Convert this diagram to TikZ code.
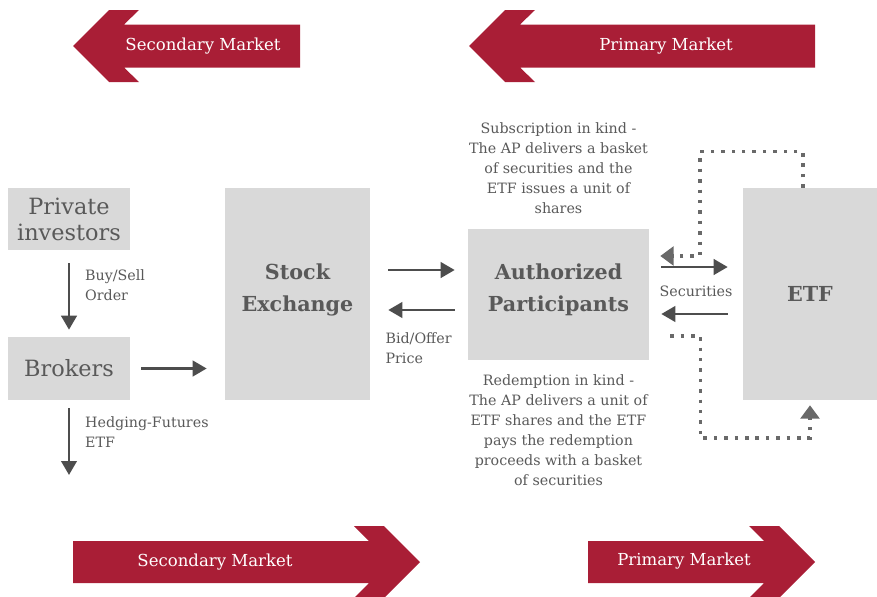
\documentclass[tikz,border=0pt]{standalone}
\usepackage{fontspec}
\setmainfont{DejaVu Serif}
\usetikzlibrary{arrows.meta}
\usetikzlibrary{positioning}
\usetikzlibrary{calc}
\definecolor{boxgray}{RGB}{217,217,217}
\definecolor{textgray}{RGB}{89,89,89}
\definecolor{linegray}{RGB}{77,77,77}
\definecolor{dotgray}{RGB}{105,105,105}
\definecolor{marketred}{RGB}{169,30,54}
\tikzset {
  % grey boxes
  block/.style = {
    fill = boxgray,
    text = textgray,
    align = center,
    inner sep = 0
  },
  big/.style = {
    block,
    font = \fontsize{16.8}{19.5}\selectfont
  },
  bold block/.style = {
    block,
    text depth = 10pt,
    font = \fontsize{15.5}{24}\selectfont\bfseries
  },
  % small captions
  lbl/.style = {
    text = textgray,
    inner sep = 0,
    font = \fontsize{10.7}{15}\selectfont
  },
  % solid connector
  arr/.style = {
    draw = linegray,
    line width = 2.2pt,
    -{Triangle[length=10.5pt,width=11.5pt]}
  },
  % dotted connector
  dots/.style = {
    draw = dotgray,
    line width = 2.6pt,
    dash pattern = on 2.6pt off 5.2pt,
    -{Triangle[length=10pt,width=14pt]}
  },
  % red market arrows
  band/.style = {
    fill = marketred
  },
  band text/.style = {
    text = white,
    font = \fontsize{12.4}{14}\selectfont
  }
}

\begin{document}
\begin{tikzpicture}[x=0.75pt, y=-0.75pt]
    \useasboundingbox (0,0) rectangle (877,596);

    % market arrows
    \fill[band] (73,46) -- (109,10) -- (139,10) -- (124,24.5) -- (300,24.5)
      -- (300,67.5) -- (124,67.5) -- (139,82) -- (109,82) -- cycle;
    \node[band text] (sec top) at (203,46) {Secondary Market};
    \fill[band] (469,46) -- (505,10) -- (535,10) -- (520,24.5) -- (815,24.5)
      -- (815,67.5) -- (520,67.5) -- (535,82) -- (505,82) -- cycle;
    \node[band text] (prim top) at (666,46) {Primary Market};
    \fill[band] (73,541) -- (369,541) -- (354,526) -- (384,526) -- (420,562)
      -- (384,598) -- (354,598) -- (369,583) -- (73,583) -- cycle;
    \node[band text] (sec bot) at (215,562) {Secondary Market};
    \fill[band] (588,541) -- (764,541) -- (749,526) -- (779,526) -- (815,562)
      -- (779,598) -- (749,598) -- (764,583) -- (588,583) -- cycle;
    \node[band text] (prim bot) at (684,561) {Primary Market};

    \node[big, minimum width=91.5pt, minimum height=46.5pt] (priv) at (69,219) {Private\\investors};
    \node[big, minimum width=91.5pt, minimum height=47.25pt] (brok) at (69,368.5) {Brokers};
    \node[bold block, minimum width=108.75pt, minimum height=159pt] (stock) at (297.5,294) {Stock\\Exchange};
    \node[bold block, minimum width=135.75pt, minimum height=98.25pt] (ap) at (558.5,294.5) {Authorized\\Participants};
    \node[bold block, text depth=0pt, minimum width=100.5pt, minimum height=159pt] (etf) at (810,294) {ETF};
    \coordinate (hedge) at (69,475);

    \node[lbl, align=center, above=11pt of ap] (sub) {Subscription in kind -\\The AP delivers a basket\\of securities and the\\ETF issues a unit of\\shares};
    \node[lbl, align=center, below=10.5pt of ap] (red) {Redemption in kind -\\The AP delivers a unit of\\ETF shares and the ETF\\pays the redemption\\proceeds with a basket\\of securities};
    \node[lbl, anchor=west, align=left] (bid) at ($(stock.east)+(15,54)$) {Bid/Offer\\Price};
    \node[lbl] (secs) at ($(ap.east)!0.5!(etf.west)+(0,-3)$) {Securities};

    \draw[arr, shorten <=9.75pt, shorten >=5.25pt] (priv) -- (brok)
      node[lbl, pos=0.4, right=11pt, align=left] {Buy/Sell\\Order};
    \draw[arr, shorten <=6pt] (brok) -- (hedge)
      node[lbl, pos=0.42, right=11pt, align=left] {Hedging-Futures\\ETF};
    \draw[arr, shorten <=8.25pt, shorten >=13.5pt] (brok) -- (brok -| stock.west);

    \draw[arr, shorten <=13.5pt, shorten >=9.75pt]
      ($(stock.east)+(0,-24)$) -- ($(stock.east -| ap.west)+(0,-24)$);
    \draw[arr, shorten <=9.75pt, shorten >=13.5pt]
      ($(stock.east -| ap.west)+(0,16)$) -- ($(stock.east)+(0,16)$);
    \draw[arr, shorten <=9pt, shorten >=11.25pt]
      ($(ap.east)+(0,-27.5)$) -- ($(ap.east -| etf.west)+(0,-27.5)$);
    \draw[arr, shorten <=11.25pt, shorten >=9pt]
      ($(ap.east -| etf.west)+(0,19.5)$) -- ($(ap.east)+(0,19.5)$);

    \draw[dots] ($(etf.north)+(-7,0)$) |- ++(-103,-36) |- ($(ap.east)+(11,-38.5)$);
    \draw[dots] ($(ap.east)+(21,41.5)$) -| ++(30,102) -| ($(etf.south)+(0,5)$);

\end{tikzpicture}
\end{document}
